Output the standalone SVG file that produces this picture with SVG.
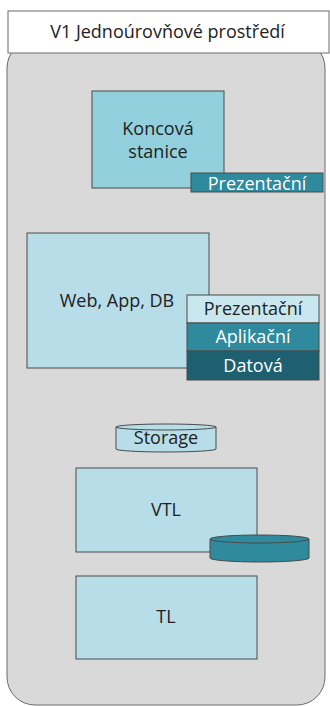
<svg xmlns="http://www.w3.org/2000/svg" width="330" height="706" viewBox="0 0 330 706">
<style>
text{font-family:"Open Sans","Noto Sans",sans-serif;font-size:18px;text-anchor:middle;fill:#222}
.w{fill:#fff}
.box{stroke:#4a4a4a;stroke-width:1}
.lt{fill:#b6dde8}
</style>
<rect x="0" y="0" width="330" height="706" fill="#fff"/>
<g id="container">
<rect x="7" y="40" width="318" height="665" rx="28" fill="#d9d9d9" stroke="#6a6a6a" stroke-width="1"/>
</g>
<g id="title">
<rect x="8" y="11" width="321" height="42" fill="#fff" stroke="#6a6a6a" stroke-width="1"/>
<text x="167.5" y="38">V1 Jednoúrovňové prostředí</text>
</g>
<g id="koncova">
<rect class="box" x="92" y="91" width="132" height="97" fill="#92d0dd"/>
<text x="158" y="135">Koncová</text>
<text x="158" y="158">stanice</text>
</g>
<g id="koncova-prez">
<rect class="box" x="191" y="173" width="132" height="19" fill="#2e8a9c"/>
<text class="w" x="257" y="190">Prezentační</text>
</g>
<g id="web">
<rect class="box lt" x="27" y="233" width="182" height="135"/>
<text x="117" y="307">Web, App, DB</text>
</g>
<g id="stack">
<rect class="box" x="187" y="295" width="132" height="28" fill="#c8e7ef"/>
<text x="253" y="315">Prezentační</text>
<rect class="box" x="187" y="323" width="132" height="28" fill="#2e8a9c"/>
<text class="w" x="253" y="343">Aplikační</text>
<rect class="box" x="187" y="351" width="132" height="29" fill="#1e6070"/>
<text class="w" x="253" y="372">Datová</text>
</g>
<g id="storage">
<path class="box lt" d="M116 427 L116 449 A50 3 0 0 0 216 449 L216 427"/>
<ellipse class="box lt" cx="166" cy="427" rx="50" ry="3"/>
<text x="166" y="444">Storage</text>
</g>
<g id="vtl">
<rect class="box lt" x="76" y="468" width="181" height="84"/>
<text x="166" y="516">VTL</text>
</g>
<g id="vtl-disk">
<path class="box" fill="#2e8a9c" d="M210 539 L210 558 A49.5 4 0 0 0 309 558 L309 539"/>
<ellipse class="box" fill="#2e8a9c" cx="259.5" cy="539" rx="49.5" ry="4"/>
</g>
<g id="tl">
<rect class="box lt" x="76" y="576" width="181" height="83"/>
<text x="166" y="623">TL</text>
</g>
<g id="connectors"></g>
</svg>
